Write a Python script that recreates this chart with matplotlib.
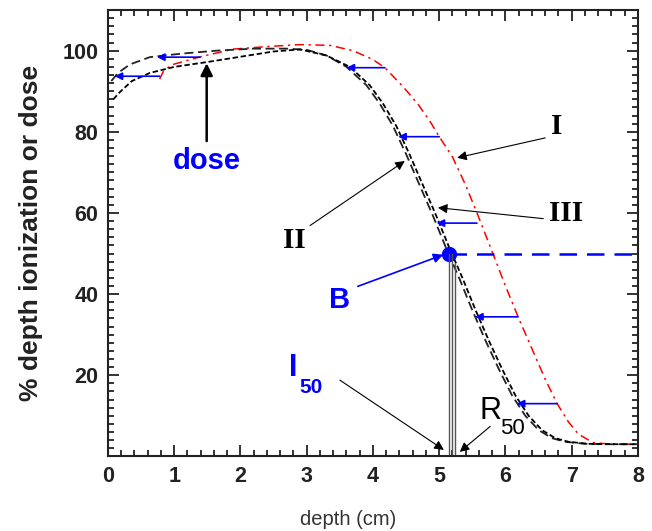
# -*- coding: utf-8 -*-
"""
Output: out.png
Depth ionization vs depth dose curves, electron beam (R50 / I50)
"""

### 0 ### Imports
import matplotlib
matplotlib.use("Agg")
import matplotlib.pyplot as plt
from matplotlib.ticker import MultipleLocator

plt.rcParams['font.family'] = 'Liberation Sans'
plt.rcParams['savefig.facecolor'] = 'white'

### 1 ### Data

# curve I : measured depth ionization (red)
ion_x = [0.78, 0.84, 0.96, 1.2, 1.42, 1.9, 2.4, 2.9, 3.35, 3.7, 4.0, 4.18, 4.45,
         4.68, 4.86, 5.0, 5.2, 5.4, 5.57, 5.81, 6.0, 6.19, 6.4, 6.6, 6.78, 6.95,
         7.1, 7.32, 7.6, 8.0]
ion_y = [93.0, 95.0, 96.5, 97.6, 98.6, 100.4, 101.0, 101.5, 101.3, 100.0, 97.8,
         95.8, 91.2, 86.8, 82.6, 78.8, 73.8, 66.8, 60.0, 50.0, 42.0, 34.4, 26.5,
         19.0, 13.0, 8.5, 5.5, 3.4, 3.0, 3.0]

# curve II : upper black (long dashes)
c2_x = [0.05, 0.15, 0.33, 0.63, 1.13, 1.64, 2.2, 2.7, 3.0, 3.3, 3.6, 3.9, 4.1,
        4.3, 4.5, 4.7, 4.9, 5.1, 5.3, 5.5, 5.7, 5.9, 6.1, 6.3, 6.5, 6.7, 6.9,
        7.2, 7.6, 8.0]
c2_y = [92.5, 94.5, 96.6, 98.4, 99.3, 100.0, 100.5, 100.5, 100.2, 98.8, 96.0,
        91.5, 87.0, 81.5, 74.5, 67.0, 59.5, 51.5, 44.0, 36.0, 28.5, 21.5, 15.0,
        10.0, 6.5, 4.5, 3.6, 3.1, 3.0, 3.0]

# curve III / dose : lower black (short dashes)
c3_x = [0.08, 0.18, 0.36, 0.63, 1.0, 1.5, 2.0, 2.5, 2.9, 3.3, 3.65, 3.95, 4.15,
        4.35, 4.55, 4.75, 4.95, 5.15, 5.35, 5.55, 5.75, 5.95, 6.15, 6.35, 6.55,
        6.75, 6.95, 7.25, 7.6, 8.0]
c3_y = [88.0, 89.8, 92.5, 94.5, 96.0, 97.2, 98.5, 99.8, 100.3, 98.8, 96.0, 91.5,
        87.0, 81.5, 74.5, 67.0, 59.5, 51.5, 44.0, 36.0, 28.5, 21.5, 15.0, 10.0,
        6.5, 4.5, 3.6, 3.1, 3.0, 3.0]

# horizontal shift arrows (ionization -> dose): level, from depth, to depth
shift_y = [98.4, 93.7, 95.8, 78.8, 57.5, 34.4, 13.0]
shift_from = [1.39, 0.78, 4.18, 5.0, 5.57, 6.19, 6.78]
shift_to = [0.74, 0.1, 3.6, 4.38, 4.96, 5.54, 6.17]

# point B at 50 %, and the I50 / R50 depths
b_x, b_y = 5.14, 50.0
i50_x = 5.19
r50_x = 5.24

xticks = [0, 1, 2, 3, 4, 5, 6, 7, 8]
yticks = [20, 40, 60, 80, 100]

### 2 ### Figure
fig = plt.figure(figsize=(6.52, 5.31), dpi=100)
ax = fig.add_axes([0.1656, 0.1405, 0.8129, 0.8405])

ax.plot(ion_x, ion_y, color='red', lw=1.1, linestyle=(0, (6, 3, 1.5, 3)))
ax.plot(c2_x, c2_y, color='#222222', lw=1.3, linestyle=(0, (5, 2.5)))
ax.plot(c3_x, c3_y, color='black', lw=1.3, linestyle=(0, (3, 1.5)))

# blue shift arrows
for yy, x0, x1 in zip(shift_y, shift_from, shift_to):
    ax.annotate('', xy=(x1, yy), xytext=(x0, yy),
                arrowprops=dict(arrowstyle='-|>', color='blue', lw=1.2,
                                mutation_scale=11, shrinkA=0, shrinkB=0))

# 50 % level and point B
ax.plot([b_x, 8], [b_y, b_y], color='blue', lw=1.8, linestyle=(0, (7, 4)))
ax.plot(b_x, b_y, 'o', color='blue', ms=10)

# vertical lines down to I50 / R50
ax.plot([b_x, b_x], [0, b_y], color='#555555', lw=1.0)
ax.plot([i50_x, i50_x], [0, b_y], color='#555555', lw=1.0)
ax.plot([r50_x, r50_x], [0, 47.6], color='#555555', lw=1.0)

# labels and pointers
blk = dict(arrowstyle='-|>', color='black', lw=0.8, mutation_scale=14,
           shrinkA=0, shrinkB=0)
serif = dict(family='Liberation Serif', fontweight='bold', fontsize=21,
             ha='center', va='center')

ax.text(6.78, 81.4, 'I', **serif)
ax.annotate('', xy=(5.27, 73.6), xytext=(6.6, 78.5), arrowprops=blk)
ax.text(6.92, 59.8, 'III', **serif)
ax.annotate('', xy=(4.98, 61.3), xytext=(6.57, 58.6), arrowprops=blk)
ax.text(2.82, 53.2, 'II', **serif)
ax.annotate('', xy=(4.48, 72.8), xytext=(3.05, 56.9), arrowprops=blk)

ax.text(1.49, 72.8, 'dose', color='blue', fontsize=21, fontweight='bold',
        ha='center', va='center')
ax.annotate('', xy=(1.49, 96.9), xytext=(1.49, 77.7),
            arrowprops=dict(arrowstyle='-|>', color='black', lw=1.8,
                            mutation_scale=18, shrinkA=0, shrinkB=0))

ax.text(3.5, 38.6, 'B', color='blue', fontsize=21, fontweight='bold',
        ha='center', va='center')
ax.annotate('', xy=(5.06, 49.7), xytext=(3.77, 41.9),
            arrowprops=dict(arrowstyle='-|>', color='blue', lw=1.2,
                            mutation_scale=14, shrinkA=0, shrinkB=0))

ax.text(2.8, 21.8, 'I', color='blue', fontsize=22, fontweight='bold',
        ha='center', va='center')
ax.text(3.06, 17.0, '50', color='blue', fontsize=15, fontweight='bold',
        ha='center', va='center')
ax.annotate('', xy=(5.07, 1.6), xytext=(3.5, 18.8), arrowprops=blk)

ax.text(5.77, 11.2, 'R', color='black', fontsize=22, ha='center',
        va='center')
ax.text(6.11, 6.8, '50', color='black', fontsize=16, ha='center',
        va='center')
ax.annotate('', xy=(5.31, 1.1), xytext=(5.77, 7.4), arrowprops=blk)

# axes styling
ax.set_xlim(0, 8)
ax.set_ylim(0, 110)
ax.set_xticks(xticks)
ax.set_yticks(yticks)
ax.xaxis.set_minor_locator(MultipleLocator(0.2))
ax.yaxis.set_minor_locator(MultipleLocator(2))
ax.tick_params(which='both', direction='in', top=True, right=True,
               width=1.3, colors='#222222')
ax.tick_params(which='major', length=8, labelsize=15.5, pad=7)
ax.tick_params(which='minor', length=4)
for lab in ax.get_xticklabels() + ax.get_yticklabels():
    lab.set_fontweight('bold')
for sp in ax.spines.values():
    sp.set_linewidth(1.5)
    sp.set_color('#222222')

ax.set_xlabel('depth (cm)', fontsize=14.5, color='#333333')
ax.xaxis.set_label_coords(0.453, -0.12)
ax.set_ylabel('% depth ionization or dose', fontsize=19, fontweight='bold',
              color='#222222')
ax.yaxis.set_label_coords(-0.123, 0.5)

### 3 ### Save
plt.savefig('out.png', dpi=100)
